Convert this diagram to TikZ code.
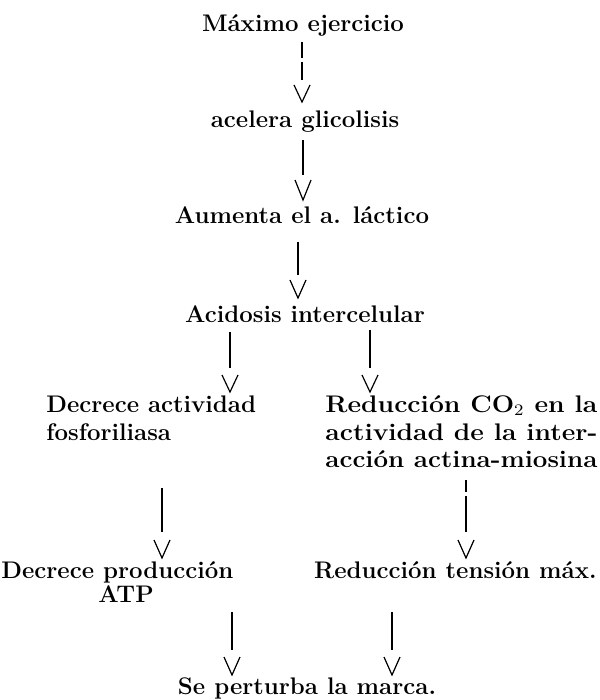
\documentclass[tikz,border=0pt]{standalone}
\usepackage{graphicx}
\usepackage{fontspec}
\newcommand{\wide}[2]{\resizebox{#1}{\height}{#2}}
\begin{document}
\begin{tikzpicture}[x=0.5pt,y=-0.5pt,
  txt/.style={font=\fontsize{12}{14}\selectfont\bfseries, inner sep=0pt, anchor=base},
  ltxt/.style={txt, anchor=base west},
  rtxt/.style={txt, anchor=base east},
  shaft/.style={line width=0.75pt},
  vee/.style={line width=0.6pt, line join=miter}]
\useasboundingbox (0,0) rectangle (599,700);
% texts
\node[txt] (n1) at (303,32) {Máximo ejercicio};
\node[txt] (n2) at (305,128) {acelera glicolisis};
\node[txt] (n3) at (302,223) {Aumenta el a. láctico};
\node[txt] (n4) at (305,322) {Acidosis intercelular};
\node[ltxt] (n5a) at (46,412) {Decrece actividad};
\node[ltxt] (n5b) at (46,440) {fosforiliasa};
\node[ltxt] (n6a) at (325,412) {\wide{136pt}{Reducción CO$_2$ en la}};
\node[ltxt] (n6b) at (325,440) {\wide{136pt}{actividad de la inter-}};
\node[ltxt] (n6c) at (325,467) {\wide{136pt}{acción actina-miosina}};
\node[ltxt] (n7a) at (1,578) {Decrece producción};
\node[txt] (n7b) at (126,602) {ATP};
\node[rtxt] (n8) at (597,578) {Reducción tensión máx.};
\node[txt] (n9) at (307,694) {Se perturba la marca.};
% arrows: shaft, then detached V
\newcommand{\myarrow}[5]{%
  \draw[shaft] (#1,#2) -- (#1,#3);
  \draw[vee] (#1-8,#4) -- (#1,#5) -- (#1+8,#4);}
\draw[shaft] (302,42) -- (302,58);
\draw[shaft] (302,62) -- (302,80);
\draw[vee] (294,85) -- (302,102) -- (310,85);
\myarrow{303}{140}{175}{180}{200}
\myarrow{298}{242}{275}{280}{298}
\myarrow{230}{332}{368}{375}{392}
\myarrow{370}{330}{368}{375}{392}
\myarrow{162}{488}{532}{540}{558}
\draw[shaft] (466,480) -- (466,492);
\draw[shaft] (466,496) -- (466,532);
\draw[vee] (458,540) -- (466,558) -- (474,540);
\myarrow{232}{612}{650}{657}{675}
\myarrow{392}{612}{650}{657}{675}
\end{tikzpicture}
\end{document}
